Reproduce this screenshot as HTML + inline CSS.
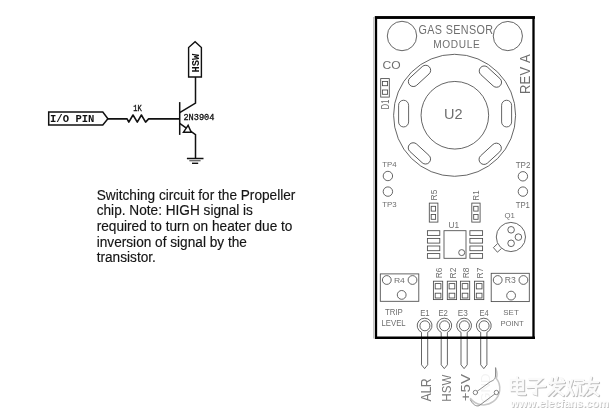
<!DOCTYPE html>
<html><head><meta charset="utf-8">
<style>
html,body{margin:0;padding:0;background:#fff;width:616px;height:420px;overflow:hidden}
svg{display:block;will-change:transform}
</style></head><body>
<svg width="616" height="420" viewBox="0 0 616 420">
<rect width="616" height="420" fill="#fff"/>
<g fill="none" stroke="#111">
  <path d="M48.7,112.1 L102.8,112.1 L107.9,118.8 L102.8,124.9 L48.7,124.9 Z" stroke-width="1.5" stroke-linejoin="miter"/>
  <path d="M107.9,118.9 L127.1,118.9 L128.8,122.1 L133,115 L137.3,122.1 L141.4,115 L145.6,122.1 L148.6,118.9 L179.7,118.9" stroke-width="1.6" stroke-linejoin="round"/>
  <path d="M179.7,102.1 L179.7,134.9" stroke-width="1.5"/>
  <path d="M179.7,112.6 L195.5,103.1 L195.5,77" stroke-width="1.5"/>
  <path d="M188.6,77 L188.6,47.6 L195.1,41.8 L201.4,47.6 L201.4,77 Z" stroke-width="1.4"/>
  <path d="M179.7,123.4 L195.5,134.6 L195.5,158.5" stroke-width="1.5"/>
  <path d="M188.1,125.3 L183.5,132.2 L191.2,132.2 Z" stroke-width="1.5" fill="#fff"/>
  <path d="M186.9,158.5 L203.5,158.5" stroke-width="1.5"/>
  <path d="M189.3,160.7 L200.6,160.7" stroke-width="1.3" stroke="#666"/>
  <path d="M192,163.3 L198.2,163.3" stroke-width="1.4"/>
</g>
<text transform="translate(50.01,122.49) scale(0.5295,0.5374)" font-family='"Liberation Mono",monospace' font-size="20" fill="#111" font-weight="bold" style="font-kerning:none">I/O PIN</text>
<text transform="translate(133.20,111.10) scale(0.3540,0.4470)" font-family='"Liberation Mono",monospace' font-size="20" fill="#111" stroke="#111" stroke-width="0.749" style="font-kerning:none">1K</text>
<text transform="translate(183.40,120.01) scale(0.4310,0.4338)" font-family='"Liberation Mono",monospace' font-size="20" fill="#111" stroke="#111" stroke-width="0.694" style="font-kerning:none">2N3904</text>
<text transform="translate(198.69,72.58) rotate(-90) scale(0.5216,0.5368)" font-family='"Liberation Mono",monospace' font-size="20" fill="#111" font-weight="bold" style="font-kerning:none">HSW</text>
<g font-family='"Liberation Sans",sans-serif' font-size="13.55" fill="#151515" stroke="#151515" stroke-width="0.15">
  <text transform="translate(96.7,200.1) scale(1.008,1.12)">Switching circuit for the Propeller</text>
  <text transform="translate(96.7,215.4) scale(1.008,1.12)">chip. Note: HIGH signal is</text>
  <text transform="translate(96.7,230.8) scale(1.008,1.12)">required to turn on heater due to</text>
  <text transform="translate(96.7,246.5) scale(1.008,1.12)">inversion of signal by the</text>
  <text transform="translate(96.7,262.3) scale(1.008,1.12)">transistor.</text>
</g>
<path d="M373.6,17 L373.6,338.5" stroke="#c4c4c4" stroke-width="1.1"/>
<path d="M376,16.2 L376,339.1 M374.9,17.5 L534.9,17.5 M533.5,16.2 L533.5,339.1" fill="none" stroke="#000" stroke-width="2.3"/>
<path d="M374.9,17.5 L534.9,17.5" fill="none" stroke="#000" stroke-width="2.6"/>
<g fill="none" stroke="#4a4a4a" stroke-width="0.85">
<circle cx="402" cy="36" r="14.7"/><circle cx="507.85" cy="36.05" r="14.6"/>
<circle cx="454.6" cy="115.3" r="61"/><circle cx="454.85" cy="115.25" r="33.8"/>
<rect x="-5" y="-13.35" width="10" height="26.7" rx="5" transform="translate(419.5,75.9) rotate(47.5)"/>
<rect x="-5" y="-13.35" width="10" height="26.7" rx="5" transform="translate(490.4,76.6) rotate(-47.5)"/>
<rect x="-5" y="-13.35" width="10" height="26.7" rx="5" transform="translate(403.6,113.6) rotate(0)"/>
<rect x="-5" y="-13.35" width="10" height="26.7" rx="5" transform="translate(506.6,113.6) rotate(0)"/>
<rect x="-5" y="-13.35" width="10" height="26.7" rx="5" transform="translate(419.4,153.4) rotate(-47.5)"/>
<rect x="-5" y="-13.35" width="10" height="26.7" rx="5" transform="translate(490.2,153.8) rotate(47.5)"/>
<rect x="380.7" y="78.6" width="8.6" height="18.5"/>
  <rect x="382.4" y="81.4" width="5.2" height="4.3"/>
  <rect x="382.4" y="90" width="5.2" height="4.3"/>
  <circle cx="387.9" cy="176" r="4.7"/>
  <circle cx="387.9" cy="191.6" r="4.7"/>
  <circle cx="522.9" cy="176.3" r="4.7"/>
  <circle cx="522.9" cy="191.6" r="4.7"/>
  <rect x="429.3" y="203.1" width="8.6" height="19"/>
  <rect x="431.2" y="206.3" width="4.4" height="4.8"/>
  <rect x="431.2" y="214.5" width="4.4" height="4.8"/>
  <rect x="471.8" y="203.1" width="8.3" height="19"/>
  <rect x="473.7" y="206.3" width="4.4" height="4.8"/>
  <rect x="473.7" y="214.5" width="4.4" height="4.8"/>
  <rect x="444" y="230.7" width="22" height="27.6"/>
  <circle cx="461.7" cy="252.6" r="3"/>
<rect x="427.4" y="230.7" width="12.4" height="4.7"/>
<rect x="427.4" y="238.4" width="12.4" height="4.7"/>
<rect x="427.4" y="246" width="12.4" height="4.7"/>
<rect x="427.4" y="253.6" width="12.4" height="4.7"/>
<rect x="469.9" y="230.7" width="12.7" height="4.7"/>
<rect x="469.9" y="238.4" width="12.7" height="4.7"/>
<rect x="469.9" y="246" width="12.7" height="4.7"/>
<rect x="469.9" y="253.6" width="12.7" height="4.7"/>
<circle cx="510.9" cy="237" r="14.6"/>
  <circle cx="511.1" cy="229.8" r="3.3"/>
  <circle cx="518.4" cy="237.1" r="3.3"/>
  <circle cx="511.1" cy="243.3" r="3.3"/>
  <path d="M497.6,243.6 L493.4,247.6 L497.4,252.2 L501.4,248.6"/>
  <rect x="380.3" y="273.9" width="38.5" height="27.4"/>
  <circle cx="386.8" cy="280" r="4.4"/>
  <circle cx="412.5" cy="280" r="4.4"/>
  <circle cx="401.7" cy="294.9" r="4.4"/>
  <rect x="491.2" y="273.3" width="38.1" height="28.3"/>
  <circle cx="497.7" cy="280" r="4.4"/>
  <circle cx="523.4" cy="280" r="4.4"/>
  <circle cx="511.1" cy="295.6" r="4.4"/>
<g transform="translate(0,0)"><rect x="433.4" y="281.2" width="9.3" height="18.4"/><rect x="435.2" y="283.6" width="5.7" height="5.3"/><rect x="435.2" y="293.2" width="5.7" height="4.8"/></g>
<g transform="translate(13.9,0)"><rect x="433.4" y="281.2" width="9.3" height="18.4"/><rect x="435.2" y="283.6" width="5.7" height="5.3"/><rect x="435.2" y="293.2" width="5.7" height="4.8"/></g>
<g transform="translate(27,0)"><rect x="433.4" y="281.2" width="9.3" height="18.4"/><rect x="435.2" y="283.6" width="5.7" height="5.3"/><rect x="435.2" y="293.2" width="5.7" height="4.8"/></g>
<g transform="translate(41.1,0)"><rect x="433.4" y="281.2" width="9.3" height="18.4"/><rect x="435.2" y="283.6" width="5.7" height="5.3"/><rect x="435.2" y="293.2" width="5.7" height="4.8"/></g>
<circle cx="424.90000000000003" cy="325.8" r="5"/>
<path d="M421.50,364.8 L421.50,332.32 A7.4,7.4 0 1 1 427.70,332.32 L427.70,364.8 L424.6,368.6 Z"/>
<circle cx="444.6" cy="325.8" r="5"/>
<path d="M441.20,364.8 L441.20,332.32 A7.4,7.4 0 1 1 447.40,332.32 L447.40,364.8 L444.3,368.6 Z"/>
<circle cx="464.40000000000003" cy="325.8" r="5"/>
<path d="M461.00,364.8 L461.00,332.32 A7.4,7.4 0 1 1 467.20,332.32 L467.20,364.8 L464.1,368.6 Z"/>
<circle cx="484.1" cy="325.8" r="5"/>
<path d="M480.70,364.8 L480.70,332.32 A7.4,7.4 0 1 1 486.90,332.32 L486.90,364.8 L483.8,368.6 Z"/>
</g>
<path d="M375,337.8 L535,337.8" stroke="#000" stroke-width="2.6"/>
<text transform="translate(418.56,33.58) scale(0.5387,0.5986)" font-family='"Liberation Sans",sans-serif' font-size="20" fill="#6e6e6e" style="font-kerning:none" letter-spacing="0.680">GAS SENSOR</text>
<text transform="translate(433.29,48.49) scale(0.5070,0.5634)" font-family='"Liberation Sans",sans-serif' font-size="20" fill="#6e6e6e" style="font-kerning:none" letter-spacing="1.243">MODULE</text>
<text transform="translate(382.39,68.68) scale(0.6062,0.5915)" font-family='"Liberation Sans",sans-serif' font-size="20" fill="#6e6e6e" style="font-kerning:none">CO</text>
<text transform="translate(530.00,93.94) rotate(-90) scale(0.6522,0.7246)" font-family='"Liberation Sans",sans-serif' font-size="20" fill="#6e6e6e" style="font-kerning:none" letter-spacing="0.201">REV A</text>
<text transform="translate(443.91,118.95) scale(0.7247,0.7254)" font-family='"Liberation Sans",sans-serif' font-size="20" fill="#6e6e6e" style="font-kerning:none">U2</text>
<text transform="translate(389.30,109.20) rotate(-90) scale(0.3732,0.5290)" font-family='"Liberation Sans",sans-serif' font-size="20" fill="#6e6e6e" style="font-kerning:none">D1</text>
<text transform="translate(382.24,167.00) scale(0.3926,0.3913)" font-family='"Liberation Sans",sans-serif' font-size="20" fill="#6e6e6e" style="font-kerning:none">TP4</text>
<text transform="translate(382.24,206.52) scale(0.3948,0.3803)" font-family='"Liberation Sans",sans-serif' font-size="20" fill="#6e6e6e" style="font-kerning:none">TP3</text>
<text transform="translate(515.64,167.70) scale(0.4027,0.4643)" font-family='"Liberation Sans",sans-serif' font-size="20" fill="#6e6e6e" style="font-kerning:none">TP2</text>
<text transform="translate(515.65,207.70) scale(0.3875,0.4710)" font-family='"Liberation Sans",sans-serif' font-size="20" fill="#6e6e6e" style="font-kerning:none">TP1</text>
<text transform="translate(436.72,200.48) rotate(-90) scale(0.4234,0.4071)" font-family='"Liberation Sans",sans-serif' font-size="20" fill="#6e6e6e" style="font-kerning:none">R5</text>
<text transform="translate(478.80,200.65) rotate(-90) scale(0.4036,0.4130)" font-family='"Liberation Sans",sans-serif' font-size="20" fill="#6e6e6e" style="font-kerning:none">R1</text>
<text transform="translate(448.58,227.91) scale(0.4148,0.4286)" font-family='"Liberation Sans",sans-serif' font-size="20" fill="#6e6e6e" style="font-kerning:none">U1</text>
<text transform="translate(504.55,217.88) scale(0.3902,0.3202)" font-family='"Liberation Sans",sans-serif' font-size="20" fill="#6e6e6e" style="font-kerning:none">Q1</text>
<text transform="translate(393.91,282.90) scale(0.4284,0.4058)" font-family='"Liberation Sans",sans-serif' font-size="20" fill="#6e6e6e" style="font-kerning:none">R4</text>
<text transform="translate(504.71,283.02) scale(0.4321,0.4085)" font-family='"Liberation Sans",sans-serif' font-size="20" fill="#6e6e6e" style="font-kerning:none">R3</text>
<text transform="translate(384.94,314.90) scale(0.3921,0.4130)" font-family='"Liberation Sans",sans-serif' font-size="20" fill="#6e6e6e" style="font-kerning:none">TRIP</text>
<text transform="translate(381.58,325.80) scale(0.3864,0.4275)" font-family='"Liberation Sans",sans-serif' font-size="20" fill="#6e6e6e" style="font-kerning:none">LEVEL</text>
<text transform="translate(503.34,314.82) scale(0.3965,0.4014)" font-family='"Liberation Sans",sans-serif' font-size="20" fill="#6e6e6e" style="font-kerning:none">SET</text>
<text transform="translate(500.39,325.72) scale(0.3841,0.3944)" font-family='"Liberation Sans",sans-serif' font-size="20" fill="#6e6e6e" style="font-kerning:none">POINT</text>
<text transform="translate(441.81,278.37) rotate(-90) scale(0.4191,0.4718)" font-family='"Liberation Sans",sans-serif' font-size="20" fill="#6e6e6e" style="font-kerning:none">R6</text>
<text transform="translate(455.80,278.38) rotate(-90) scale(0.4228,0.4786)" font-family='"Liberation Sans",sans-serif' font-size="20" fill="#6e6e6e" style="font-kerning:none">R2</text>
<text transform="translate(468.81,278.37) rotate(-90) scale(0.4191,0.4718)" font-family='"Liberation Sans",sans-serif' font-size="20" fill="#6e6e6e" style="font-kerning:none">R8</text>
<text transform="translate(483.00,278.38) rotate(-90) scale(0.4228,0.4855)" font-family='"Liberation Sans",sans-serif' font-size="20" fill="#6e6e6e" style="font-kerning:none">R7</text>
<text transform="translate(420.18,316.00) scale(0.3874,0.4783)" font-family='"Liberation Sans",sans-serif' font-size="20" fill="#6e6e6e" style="font-kerning:none">E1</text>
<text transform="translate(438.38,316.00) scale(0.3892,0.4714)" font-family='"Liberation Sans",sans-serif' font-size="20" fill="#6e6e6e" style="font-kerning:none">E2</text>
<text transform="translate(457.84,315.91) scale(0.4129,0.4648)" font-family='"Liberation Sans",sans-serif' font-size="20" fill="#6e6e6e" style="font-kerning:none">E3</text>
<text transform="translate(479.40,316.00) scale(0.3777,0.4783)" font-family='"Liberation Sans",sans-serif' font-size="20" fill="#6e6e6e" style="font-kerning:none">E4</text>
<text transform="translate(431.10,401.40) rotate(-90) scale(0.6196,0.6884)" font-family='"Liberation Sans",sans-serif' font-size="20" fill="#7a7a7a" style="font-kerning:none" letter-spacing="-0.743">ALR</text>
<text transform="translate(450.77,401.72) rotate(-90) scale(0.5768,0.6408)" font-family='"Liberation Sans",sans-serif' font-size="20" fill="#7a7a7a" style="font-kerning:none" letter-spacing="0.221">HSW</text>
<text transform="translate(470.07,401.15) rotate(-90) scale(0.7485,0.6429)" font-family='"Liberation Sans",sans-serif' font-size="20" fill="#7a7a7a" style="font-kerning:none">+5V</text>
<text transform="translate(490.37,402.66) rotate(-90) scale(0.6588,0.6690)" font-family='"Liberation Sans",sans-serif' font-size="20" fill="#f3f3f3" style="font-kerning:none">GND</text>
<g fill="none" stroke-linecap="round" stroke-linejoin="round">
<path d="M495.6,368 C497.2,372 497.2,376 496.4,378.5 A16.2,16.2 0 1 1 470.5,398.5" stroke="#c6c6c6" stroke-width="1.5"/>
<path d="M477.2,391.3 L490.2,381.8 C492.5,380.6 495.2,380 495.5,376 L495.6,368" stroke="#7c7c7c" stroke-width="0.9"/>
<path d="M494.8,394 L479.2,405.6 C476,407 472.5,404 470.5,400" stroke="#7c7c7c" stroke-width="0.9"/>
<circle cx="475.4" cy="392.5" r="2.2" stroke="#777" stroke-width="0.9" fill="#fff"/>
<circle cx="496.4" cy="392.5" r="2.2" stroke="#777" stroke-width="0.9" fill="#fff"/>
</g>
<path d="M511,380 L523,380 L523,390 L511,390 Z M511,385 L523,385 M517,377 L517,392 Q517,394 520,394 L525,394 M529,379 L541,379 L536,384 M536,384 L536,394 L533,393 M527,387 L545,386 M552,378 L551,384 M549,383 L564,382 M557,377 L553,390 L548,395 M556,386 L562,386 L553,395 M555,389 L563,395 M561,378 L563,380 M568,381 L568,386 M572,380 L570,386 M570,386 Q569,392 566,395 M570,388 L573,395 M575,380 L583,380 M574,384 L583,383 M578,383 L576,395 M580,386 L580,394 L583,394 M584,382 L598,382 M591,377 Q589,389 583,395 M589,386 L596,386 Q594,392 587,395 M590,389 L598,395" transform="translate(1,1)" fill="none" stroke="#bdbdbd" stroke-width="2.4" stroke-linecap="round"/>
<path d="M511,380 L523,380 L523,390 L511,390 Z M511,385 L523,385 M517,377 L517,392 Q517,394 520,394 L525,394 M529,379 L541,379 L536,384 M536,384 L536,394 L533,393 M527,387 L545,386 M552,378 L551,384 M549,383 L564,382 M557,377 L553,390 L548,395 M556,386 L562,386 L553,395 M555,389 L563,395 M561,378 L563,380 M568,381 L568,386 M572,380 L570,386 M570,386 Q569,392 566,395 M570,388 L573,395 M575,380 L583,380 M574,384 L583,383 M578,383 L576,395 M580,386 L580,394 L583,394 M584,382 L598,382 M591,377 Q589,389 583,395 M589,386 L596,386 Q594,392 587,395 M590,389 L598,395" fill="none" stroke="#fafafa" stroke-width="2.4" stroke-linecap="round"/>
<text transform="translate(511.26,408.10) scale(0.5504,0.5170)" font-family='"Liberation Sans",sans-serif' font-size="20" fill="#c0c0c0" font-weight="bold" style="font-kerning:none">www.elecfans.com</text>
<text transform="translate(510.46,407.30) scale(0.5504,0.5170)" font-family='"Liberation Sans",sans-serif' font-size="20" fill="#fdfdfd" font-weight="bold" style="font-kerning:none">www.elecfans.com</text>
</svg>
</body></html>
